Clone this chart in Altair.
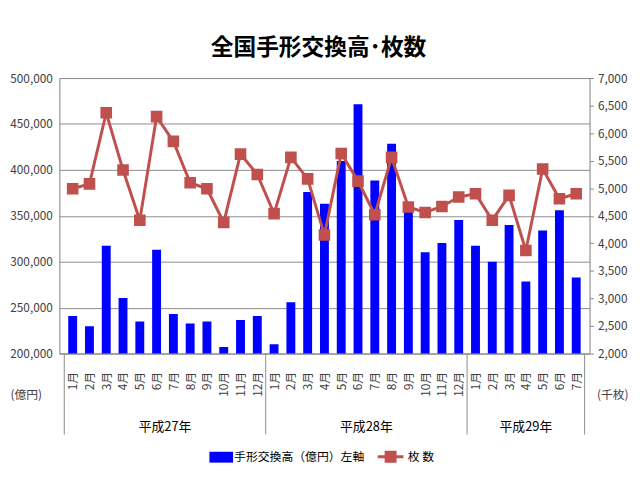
import json
import altair as alt
import pandas as pd

# ---- data ----
month_labels = ["1月", "2月", "3月", "4月", "5月", "6月", "7月", "8月", "9月", "10月", "11月", "12月",
                "1月", "2月", "3月", "4月", "5月", "6月", "7月", "8月", "9月", "10月", "11月", "12月",
                "1月", "2月", "3月", "4月", "5月", "6月", "7月"]
year_names = ["平成27年", "平成28年", "平成29年"]
year_sizes = [12, 12, 7]

# 手形交換高 (億円) left axis
amount = [240800, 229700, 317400, 260500, 235000, 313000, 243000, 232600, 235000, 207000, 236500, 240800,
          210000, 255900, 375800, 363000, 409800, 471400, 388300, 428400, 361500, 310300, 320300, 345400,
          317400, 299900, 340000, 278400, 333900, 356100, 282700]
# 枚数 (千枚) right axis
count = [4990, 5080, 6370, 5330, 4420, 6300, 5850, 5100, 4990, 4380, 5620, 5250,
         4540, 5560, 5170, 4150, 5630, 5130, 4520, 5560, 4660, 4560, 4670, 4840,
         4900, 4420, 4870, 3870, 5350, 4810, 4900]

bar_name = "手形交換高（億円）左軸"
line_name = "枚 数"
title_text = "全国手形交換高･枚数"

left_ticks = [200000, 250000, 300000, 350000, 400000, 450000, 500000]
right_ticks = [2000, 2500, 3000, 3500, 4000, 4500, 5000, 5500, 6000, 6500, 7000]

BLUE = "#0000FF"
RED = "#C0504D"
GRID = "#8C8C8C"
TXT = "#404040"
FONT = "Noto Sans CJK JP"

n = len(month_labels)
df = pd.DataFrame({
    "i": list(range(n)),
    "month": month_labels,
    "amount": amount,
    "count": count,
    "bar_series": [bar_name] * n,
    "line_series": [line_name] * n,
})

# group separators and centers computed from the group sizes
seps = [-0.5]
centers = []
start = 0
for s in year_sizes:
    centers.append(start + (s - 1) / 2)
    start += s
    seps.append(start - 0.5)
df_sep = pd.DataFrame({"pos": seps})
df_year = pd.DataFrame({"pos": centers, "name": year_names})

W, H = 537, 279
xscale = alt.Scale(domain=[-0.5, n - 0.5], nice=False, zero=False)
label_expr = json.dumps(month_labels, ensure_ascii=False) + "[datum.value]"
x_axis = alt.Axis(values=list(range(n)), labelExpr=label_expr, labelAngle=-90,
                  labelAlign="right", labelBaseline="middle", labelPadding=18,
                  labelFontSize=12, labelColor=TXT, labelFont=FONT, labelOverlap=False,
                  labelFlush=False, labelBound=False,
                  ticks=False, grid=False, domainColor=GRID, title=None)

bars = alt.Chart(df).mark_bar(size=9, clip=True).encode(
    x=alt.X("i:Q", scale=xscale, axis=x_axis),
    y=alt.Y("amount:Q", scale=alt.Scale(domain=[200000, 500000], nice=False, zero=False),
            axis=alt.Axis(values=left_ticks, format=",.0f", grid=True, gridColor=GRID,
                          ticks=False, labelPadding=7, labelFontSize=12, labelColor=TXT,
                          labelFont=FONT, domainColor=GRID,
                          title="(億円)", titleAngle=0, titleX=-34, titleY=321,
                          titleAlign="center", titleBaseline="middle", titleFontSize=12,
                          titleFontWeight="normal", titleColor=TXT, titleFont=FONT)),
    fill=alt.Fill("bar_series:N", scale=alt.Scale(domain=[bar_name], range=[BLUE]),
                  legend=alt.Legend(orient="none", legendX=153, legendY=373, title=None,
                                    symbolType="M-1.09,-0.5H1.09V0.5H-1.09Z", symbolSize=484,
                                    symbolStrokeWidth=0, labelFontSize=12, labelOffset=2,
                                    labelColor="black", labelFont=FONT, padding=0)),
)

line = alt.Chart(df).mark_line(
    strokeWidth=3,
    point=alt.OverlayMarkDef(shape="square", size=95, filled=True, fill=RED, color=RED),
).encode(
    x=alt.X("i:Q", scale=xscale, axis=x_axis),
    y=alt.Y("count:Q", scale=alt.Scale(domain=[2000, 7000], nice=False, zero=False),
            axis=alt.Axis(orient="right", values=right_ticks, format=",.0f", grid=False,
                          tickSize=4, tickColor=GRID, labelPadding=4, labelFontSize=12,
                          labelColor=TXT, labelFont=FONT, domainColor=GRID,
                          title="(千枚)", titleAngle=0, titleX=23, titleY=321,
                          titleAlign="center", titleBaseline="middle", titleFontSize=12,
                          titleFontWeight="normal", titleColor=TXT, titleFont=FONT)),
    stroke=alt.Stroke("line_series:N", scale=alt.Scale(domain=[line_name], range=[RED]),
                      legend=alt.Legend(orient="none", legendX=321, legendY=369, title=None,
                                        symbolType="M-1,0H1M-0.35,-0.35H0.35V0.35H-0.35Z",
                                        symbolSize=676, symbolStrokeWidth=3,
                                        symbolFillColor=RED, labelFontSize=12, labelOffset=3,
                                        labelColor="black", labelFont=FONT, padding=0)),
)

sep_rules = alt.Chart(df_sep).mark_rule(color=GRID, strokeWidth=1).encode(
    x=alt.X("pos:Q", scale=xscale, axis=x_axis),
    y=alt.value(H),
    y2=alt.value(361),
)

year_text = alt.Chart(df_year).mark_text(fontSize=13, font=FONT, color="black",
                                         baseline="middle", align="center").encode(
    x=alt.X("pos:Q", scale=xscale, axis=x_axis),
    y=alt.value(353),
    text="name:N",
)

chart = alt.layer(bars, line, sep_rules, year_text).resolve_scale(
    y="independent"
).properties(
    width=W, height=H,
    autosize=alt.AutoSizeParams(type="none"),
    padding={"left": 52, "top": 68, "right": 43, "bottom": 114},
    title=alt.TitleParams(title_text, fontSize=23, fontWeight="bold", font=FONT,
                          anchor="middle", offset=12, dx=-6, color="black"),
).configure_view(stroke=None).configure(font=FONT)

chart.save("out.html", embed_options={"renderer": "svg", "actions": False})
